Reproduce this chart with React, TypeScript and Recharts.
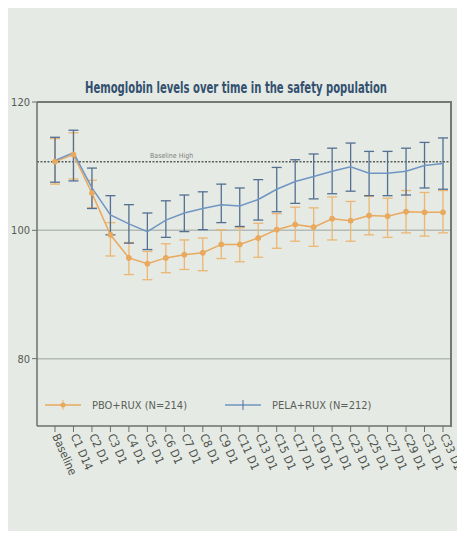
import { LineChart, Line, XAxis, YAxis, ErrorBar, ReferenceLine } from "recharts";

const categories = [
  "Baseline", "C1 D14", "C2 D1", "C3 D1", "C4 D1", "C5 D1", "C6 D1", "C7 D1",
  "C8 D1", "C9 D1", "C11 D1", "C13 D1", "C15 D1", "C17 D1", "C19 D1", "C21 D1",
  "C23 D1", "C25 D1", "C27 D1", "C29 D1", "C31 D1", "C33 D1",
];

// PBO+RUX (N=214)
const pboMean = [110.7, 111.8, 105.8, 99.3, 95.7, 94.8, 95.7, 96.2, 96.5, 97.8, 97.8, 98.8, 100.1, 100.9, 100.5, 101.8, 101.5, 102.3, 102.2, 102.9, 102.8, 102.8];
const pboLow = [107.2, 108.0, 103.5, 96.0, 93.1, 92.3, 93.4, 93.9, 93.7, 95.6, 95.1, 95.8, 97.2, 98.3, 97.5, 98.5, 98.3, 99.3, 98.9, 99.6, 99.1, 99.6];
const pboHigh = [114.3, 115.2, 107.8, 101.2, 98.1, 96.7, 97.9, 98.5, 98.8, 100.1, 100.4, 101.1, 102.6, 103.6, 103.5, 105.2, 104.5, 105.3, 105.0, 106.2, 105.9, 106.2];

// PELA+RUX (N=212)
const pelaMean = [110.9, 112.1, 106.6, 102.4, 101.0, 99.8, 101.6, 102.7, 103.4, 104.0, 103.8, 104.8, 106.4, 107.6, 108.4, 109.2, 109.9, 108.9, 108.9, 109.2, 110.1, 110.4];
const pelaLow = [107.5, 107.7, 103.4, 99.3, 98.0, 97.0, 98.9, 99.8, 100.1, 101.2, 100.6, 101.6, 102.9, 104.2, 104.9, 105.7, 106.1, 105.4, 105.4, 105.5, 106.6, 106.4];
const pelaHigh = [114.5, 115.6, 109.7, 105.4, 104.0, 102.7, 104.6, 105.5, 106.0, 107.2, 106.6, 107.9, 109.8, 111.0, 111.9, 112.8, 113.6, 112.3, 112.3, 112.8, 113.7, 114.4];

const yTicks = [80, 100, 120];
const gridValues = [80, 100];
const yMax = 120;
const baselineHigh = 110.7;

const FONT = '"Liberation Sans Narrow", "DejaVu Sans Condensed", "Arial Narrow", "Liberation Sans", sans-serif';
const ORANGE = "#e9a95e";
const ORANGE_ERR = "#ecb673";
const BLUE = "#6f95c3";
const BLUE_ERR = "#536f92";
const AXIS = "#6c716c";
const FRAME = "#747974";

const data = categories.map((cat, i) => ({
  cat,
  pbo: pboMean[i],
  pboErr: [pboMean[i] - pboLow[i], pboHigh[i] - pboMean[i]],
  pela: pelaMean[i],
  pelaErr: [pelaMean[i] - pelaLow[i], pelaHigh[i] - pelaMean[i]],
}));

const series = [
  { key: "pbo", name: "PBO+RUX (N=214)", color: ORANGE, errColor: ORANGE_ERR, dot: true },
  { key: "pela", name: "PELA+RUX (N=212)", color: BLUE, errColor: BLUE_ERR, dot: false },
];

const XTick = ({ x, y, payload }: any) => (
  <text
    transform={`translate(${x - 3},${y + 2}) rotate(66)`}
    textAnchor="start"
    fontSize={11.5}
    fill="#4d524d"
    fontFamily={FONT}
  >
    {payload.value}
  </text>
);

const BaselineLabel = ({ viewBox }: any) => (
  <text x={viewBox.x + 113} y={viewBox.y - 4} fontSize={7} fill="#7d827d" fontFamily={FONT}>
    Baseline High
  </text>
);

function LegendIcon({ color, errColor, dot }: { color: string; errColor: string; dot: boolean }) {
  return (
    <svg width={36} height={14} style={{ display: "block" }}>
      <line x1={0} y1={7} x2={36} y2={7} stroke={color} strokeWidth={1.5} />
      <line x1={18} y1={2} x2={18} y2={12} stroke={errColor} strokeWidth={1} />
      {dot && <circle cx={18} cy={7} r={2.5} fill={color} />}
    </svg>
  );
}

export default function App() {
  return (
    <div style={{ position: "relative", width: 465, height: 539, background: "#ededed", margin: -8, fontFamily: FONT }}>
      <div style={{ position: "absolute", left: 8, top: 4, width: 457, height: 533, background: "#e5eae4" }} />
      <svg style={{ position: "absolute", left: 0, top: 0 }} width={465} height={100}>
        <text
          x={236}
          y={93}
          textAnchor="middle"
          fontSize={15}
          fontWeight="bold"
          fill="#33506f"
          fontFamily={FONT}
          textLength={302}
          lengthAdjust="spacingAndGlyphs"
        >
          Hemoglobin levels over time in the safety population
        </text>
      </svg>
      <div style={{ position: "absolute", left: 0, top: 0 }}>
        <LineChart width={465} height={539} data={data} margin={{ top: 102, right: 14, left: 7, bottom: 13 }}>
          <XAxis
            dataKey="cat"
            interval={0}
            padding={{ left: 18, right: 8 }}
            height={100}
            tickSize={6}
            tickLine={{ stroke: AXIS }}
            axisLine={{ stroke: AXIS, strokeWidth: 1.5 }}
            tick={<XTick />}
          />
          <YAxis
            domain={[69.5, yMax]}
            ticks={yTicks}
            width={30}
            tickSize={5}
            tickLine={{ stroke: AXIS }}
            axisLine={{ stroke: AXIS, strokeWidth: 1.5 }}
            tick={{ fontSize: 11, fill: "#555a55", fontFamily: FONT }}
            allowDataOverflow
          />
          {gridValues.map((v) => (
            <ReferenceLine key={v} y={v} stroke="#b4bbb6" strokeWidth={1.5} />
          ))}
          {/* top edge of the plot frame */}
          <ReferenceLine y={yMax} stroke={FRAME} strokeWidth={2} />
          <ReferenceLine y={baselineHigh} stroke="#5a5f5a" strokeWidth={1.5} strokeDasharray="2 1.5" label={<BaselineLabel />} />
          {series.map((s) => (
            <Line
              key={s.key}
              dataKey={s.key}
              name={s.name}
              stroke={s.color}
              strokeWidth={1.5}
              dot={s.dot ? { r: 2.5, fill: s.color, stroke: s.color, strokeWidth: 1 } : false}
              activeDot={false}
              isAnimationActive={false}
            >
              <ErrorBar dataKey={`${s.key}Err`} width={5} stroke={s.errColor} strokeWidth={1.3} direction="y" />
            </Line>
          ))}
        </LineChart>
      </div>
      {/* right edge of the plot frame */}
      <div
        style={{
          position: "absolute",
          zIndex: 5,
          left: 450,
          top: 101,
          width: 0,
          height: 326,
          borderLeft: `2px solid ${FRAME}`,
        }}
      />
      <div style={{ position: "absolute", left: 45, top: 398, display: "flex", alignItems: "center" }}>
        {series.map((s, i) => (
          <div key={s.key} style={{ display: "flex", alignItems: "center", marginLeft: i === 0 ? 0 : 38 }}>
            <LegendIcon color={s.color} errColor={s.errColor} dot={s.dot} />
            <span style={{ marginLeft: 11, fontSize: 11, color: "#5a5f5a", whiteSpace: "nowrap" }}>{s.name}</span>
          </div>
        ))}
      </div>
    </div>
  );
}
